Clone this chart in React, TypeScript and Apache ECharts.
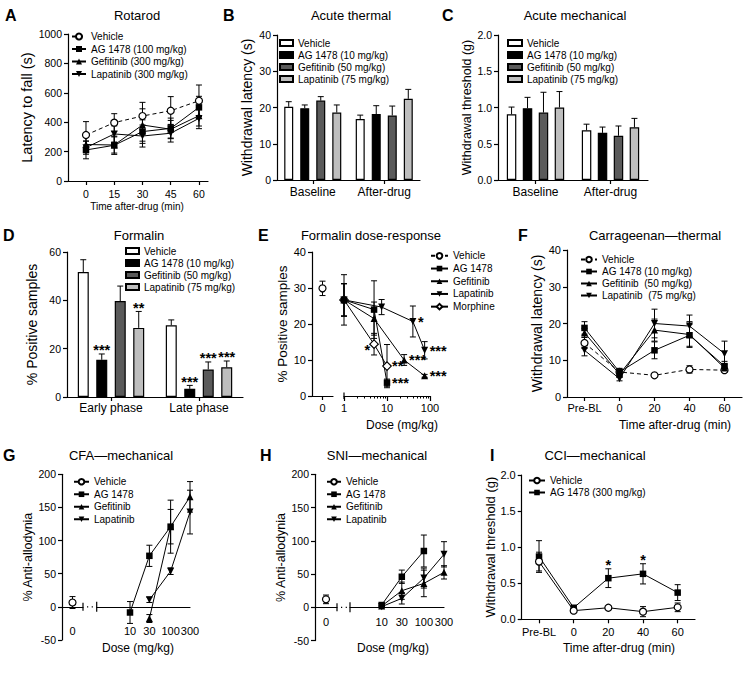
import React, { useEffect, useRef } from 'react';
import * as echarts from 'echarts';

const FONT = '"Liberation Sans", Arial, Helvetica, sans-serif';
const K = '#000000';
const WHITE = '#ffffff';
const DARK = '#5a5a5a';
const LIGHT = '#bebebe';

// ---------------- A: Rotarod ----------------
const aTimes = [0, 15, 30, 45, 60];
const aVehicle = [313, 397, 442, 478, 546];
const aVehicleSem = [91, 61, 93, 96, 107];
const aAG = [211, 243, 336, 358, 501];
const aAGSem = [60, 62, 80, 70, 75];
const aGef = [248, 245, 381, 352, 444];
const aGefSem = [50, 55, 110, 60, 70];
const aLap = [227, 320, 306, 325, 426];
const aLapSem = [45, 55, 75, 60, 70];

// ---------------- B: Acute thermal ----------------
const bCats = ['Baseline', 'After-drug'];
const bVehicle = [20.2, 16.8];
const bVehicleSem = [1.4, 1.1];
const bAG = [19.8, 18.2];
const bAGSem = [0.9, 2.3];
const bGef = [21.9, 17.8];
const bGefSem = [1.1, 2.6];
const bLap = [18.6, 22.4];
const bLapSem = [2.1, 2.6];

// ---------------- C: Acute mechanical ----------------
const cCats = ['Baseline', 'After-drug'];
const cVehicle = [0.906, 0.685];
const cVehicleSem = [0.1, 0.085];
const cAG = [0.99, 0.65];
const cAGSem = [0.15, 0.08];
const cGef = [0.93, 0.61];
const cGefSem = [0.28, 0.135];
const cLap = [1.0, 0.726];
const cLapSem = [0.22, 0.124];

// ---------------- D: Formalin ----------------
const dCats = ['Early phase', 'Late phase'];
const dVehicle = [51.7, 29.7];
const dVehicleSem = [5.1, 2.2];
const dAG = [15.4, 3.4];
const dAGSem = [2.4, 1.4];
const dGef = [39.7, 11.4];
const dGefSem = [6.2, 3.1];
const dLap = [28.6, 12.3];
const dLapSem = [6.8, 2.6];
const dVehicleStars = ['', ''];
const dAGStars = ['***', '***'];
const dGefStars = ['', '***'];
const dLapStars = ['**', '***'];

// ---------------- E: Formalin dose-response ----------------
const eVehicleDose = [0];
const eVehicle = [29.9];
const eVehicleSem = [2.0];
const eAGDose = [1, 5, 10];
const eAG = [26.7, 24.0, 3.7];
const eAGSem = [7.0, 8.0, 1.0];
const eGefDose = [1, 5, 25, 75];
const eGef = [26.7, 21.5, 10.0, 5.6];
const eGefSem = [4.5, 4.6, 1.5, 0.4];
const eLapDose = [1, 7.5, 40, 75];
const eLap = [26.7, 24.7, 20.7, 12.7];
const eLapSem = [4.5, 2.1, 4.3, 2.4];
const eMorDose = [1, 5, 10];
const eMor = [26.7, 14.4, 8.3];
const eMorSem = [4.5, 3.0, 6.0];
const eAGStars = ['', '', '***'];
const eGefStars = ['', '', '***', '***'];
const eLapStars = ['', '', '*', '***'];
const eMorStars = ['', '*', '**'];
const eMorStarSide = ['', 'left', 'right'];
const eDoseTicks = [1, 10, 100];
const eMinorTicks = [2, 3, 4, 5, 6, 7, 8, 9, 20, 30, 40, 50, 60, 70, 80, 90];

// ---------------- F: Carrageenan-thermal ----------------
const fCats = ['Pre-BL', '0', '20', '40', '60'];
const fVehicle = [14.7, 6.8, 5.9, 7.5, 7.3];
const fVehicleSem = [1.5, 0.8, 0.5, 1.0, 0.6];
const fAG = [18.8, 6.8, 12.7, 16.8, 8.4];
const fAGSem = [1.7, 1.0, 2.3, 3.0, 1.3];
const fGef = [17.5, 6.2, 18.2, 17.0, 7.9];
const fGefSem = [1.2, 0.8, 3.0, 3.5, 1.0];
const fLap = [12.7, 5.0, 20.0, 19.3, 11.8];
const fLapSem = [1.5, 0.6, 3.9, 3.0, 3.4];

// ---------------- G: CFA-mechanical ----------------
const gVehicleDose = [0];
const gVehicle = [6.5];
const gVehicleSem = [9];
const gAGDose = [10, 30, 100];
const gAG = [-8.5, 77, 121];
const gAGSem = [16.5, 16, 40];
const gGefDose = [30, 100, 300];
const gGef = [-17.6, 121, 166];
const gGefSem = [6, 26, 23];
const gLapDose = [30, 100, 300];
const gLap = [10.6, 53.8, 143];
const gLapSem = [4, 5, 33];
const ghDoseTicks = [10, 30, 100, 300];

// ---------------- H: SNI-mechanical ----------------
const hVehicleDose = [0];
const hVehicle = [12];
const hVehicleSem = [6.5];
const hAGDose = [10, 30, 100];
const hAG = [3.5, 46, 84.7];
const hAGSem = [2, 10, 24];
const hGefDose = [10, 30, 100, 300];
const hGef = [2, 25, 36, 52.6];
const hGefSem = [1.5, 13, 20, 10];
const hLapDose = [10, 30, 100, 300];
const hLap = [1, 13.5, 44, 79.7];
const hLapSem = [1.5, 8.5, 15, 19];

// ---------------- I: CCI-mechanical ----------------
const iCats = ['Pre-BL', '0', '20', '40', '60'];
const iVehicle = [0.8, 0.12, 0.16, 0.106, 0.166];
const iVehicleSem = [0.13, 0.02, 0.02, 0.07, 0.06];
const iAG = [0.87, 0.16, 0.57, 0.63, 0.37];
const iAGSem = [0.22, 0.03, 0.13, 0.14, 0.11];
const iAGStars = ['', '', '*', '*', ''];

// ---------------- helpers ----------------
const lg = (d: number) => Math.log10(d);
const logFmt = (v: number) => String(Math.round(Math.pow(10, v)));
const plainFmt = (v: number) => String(v);
const pts = (xs: number[], ys: number[]) => xs.map((x, i) => [x, ys[i]]);
const tri = (xs: number[], ys: number[], es: number[]) => xs.map((x, i) => [x, ys[i], es[i]]);
const idx = (n: number) => Array.from({ length: n }, (_, i) => i);

const LS = { color: K, width: 1.2 };
const STAR_FS = 14.5;

const MK: any = {
  vehicle: { symbol: 'circle', size: 7, open: true },
  ag: { symbol: 'rect', size: 6.5 },
  gef: { symbol: 'triangle', size: 7 },
  lap: { symbol: 'triangle', size: 7, rotate: 180 },
  mor: { symbol: 'diamond', size: 8.5, open: true },
};

function T(text: string, x: number, y: number, fontSize: number, extra: any = {}) {
  return {
    type: 'text', x, y, silent: true,
    style: { text, fontSize, fontFamily: FONT, fill: K, align: 'center', verticalAlign: 'middle', ...extra },
  };
}
const letter = (l: string, x: number, y: number) => T(l, x, y, 16, { fontWeight: 'bold', align: 'left' });

function yAx(gi: number, min: number, max: number, interval: number, name: string, nameGap: number, nameSize: number, labelSize: number, fmt: any = plainFmt, show = true) {
  return {
    type: 'value', gridIndex: gi, min, max, interval, show, position: 'left',
    name, nameLocation: 'middle', nameGap,
    nameTextStyle: { fontSize: nameSize, fontFamily: FONT, color: K },
    axisLine: { show: true, onZero: false, lineStyle: LS },
    axisTick: { show: true, length: 4, lineStyle: LS },
    axisLabel: { show: true, fontSize: labelSize, fontFamily: FONT, color: K, margin: 6, formatter: fmt },
    splitLine: { show: false },
  };
}
const yHidden = (gi: number, min: number, max: number) => ({
  type: 'value', gridIndex: gi, min, max, show: false, axisLine: { onZero: false }, splitLine: { show: false },
});

function xCat(gi: number, data: string[], fs: number, margin: number) {
  return {
    type: 'category', gridIndex: gi, data, boundaryGap: true,
    axisLine: { show: true, lineStyle: LS },
    axisTick: { show: true, alignWithLabel: true, length: 4, lineStyle: LS },
    axisLabel: { show: true, interval: 0, fontSize: fs, fontFamily: FONT, color: K, margin },
    splitLine: { show: false },
  };
}

function xVal(gi: number, min: number, max: number, ticks: number[], fs: number, margin: number, fmt: any = plainFmt, tickLen = 4, showTicks = true) {
  return {
    type: 'value', gridIndex: gi, min, max, position: 'bottom',
    axisLine: { show: true, onZero: true, lineStyle: LS },
    axisTick: { show: showTicks, length: tickLen, customValues: ticks, lineStyle: LS },
    axisLabel: { show: true, customValues: ticks, fontSize: fs, fontFamily: FONT, color: K, margin, formatter: fmt },
    splitLine: { show: false },
  };
}

function xMinor(gi: number, min: number, max: number, ticks: number[]) {
  return {
    type: 'value', gridIndex: gi, min, max, position: 'bottom', offset: 0,
    axisLine: { show: false, onZero: true },
    axisTick: { show: true, length: 2.5, customValues: ticks, lineStyle: { color: K, width: 1 } },
    axisLabel: { show: false },
    splitLine: { show: false },
  };
}

function legend(names: string[], left: number, top: number, itemWidth: number, itemHeight: number, rowH: number, icon?: string) {
  return {
    show: true, orient: 'vertical', left, top, itemWidth, itemHeight, itemGap: 0, padding: 0,
    icon, data: names, selectedMode: false,
    textStyle: { fontSize: 10, fontFamily: FONT, color: K, lineHeight: rowH },
  };
}

function line(name: string, data: any[], mk: any, xi: number, yi: number, dashed = false) {
  return {
    type: 'line', name, data, xAxisIndex: xi, yAxisIndex: yi,
    symbol: mk.symbol, symbolSize: mk.size, symbolRotate: mk.rotate || 0,
    showAllSymbol: true, silent: true, z: 4,
    lineStyle: { color: K, width: 1, type: dashed ? [4, 3] : 'solid' },
    itemStyle: { color: mk.open ? WHITE : K, borderColor: K, borderWidth: mk.open ? 1.2 : 0 },
    emphasis: { disabled: true },
  };
}

function errBars(xi: number, yi: number, data: number[][], both = true, offset = 0, cap = 3) {
  return {
    type: 'custom', xAxisIndex: xi, yAxisIndex: yi, data, silent: true, z: 3,
    encode: { x: 0, y: 1 },
    renderItem: (params: any, api: any) => {
      const x = api.value(0);
      const y = api.value(1);
      const e = api.value(2);
      const t = api.coord([x, y + e]);
      const b = api.coord([x, both ? y - e : y]);
      const cx = t[0] + offset;
      const st = { stroke: K, lineWidth: 1 };
      const ch: any[] = [
        { type: 'line', shape: { x1: cx, y1: t[1], x2: cx, y2: b[1] }, style: st },
        { type: 'line', shape: { x1: cx - cap, y1: t[1], x2: cx + cap, y2: t[1] }, style: st },
      ];
      if (both) ch.push({ type: 'line', shape: { x1: cx - cap, y1: b[1], x2: cx + cap, y2: b[1] }, style: st });
      return { type: 'group', children: ch };
    },
  };
}

// star labels: items {x, y, text, dx, dy, align}
function stars(xi: number, yi: number, items: any[]) {
  return {
    type: 'custom', xAxisIndex: xi, yAxisIndex: yi, silent: true, z: 5,
    data: items.map((s) => [s.x, s.y]),
    encode: { x: 0, y: 1 },
    renderItem: (params: any, api: any) => {
      const s = items[params.dataIndex];
      const c = api.coord([api.value(0), api.value(1)]);
      return {
        type: 'text', x: c[0] + s.dx, y: c[1] + s.dy,
        style: { text: s.text, fontSize: STAR_FS, fontWeight: 'bold', fontFamily: FONT, fill: K, align: s.align, verticalAlign: 'middle' },
      };
    },
  };
}

// bar-chart stars above error bars
function barStars(gi: number, vals: number[], sems: number[], txt: string[], offset: number) {
  const items: any[] = [];
  txt.forEach((t, i) => {
    if (t) items.push({ x: i, y: vals[i] + sems[i], text: t, dx: offset, dy: -3.6, align: 'center' });
  });
  return stars(gi, gi, items);
}

// point stars beside a point (log x)
function sideStars(xi: number, yi: number, doses: number[], vals: number[], txt: string[], side?: string[]) {
  const items: any[] = [];
  txt.forEach((t, i) => {
    if (!t) return;
    const left = side && side[i] === 'left';
    items.push({ x: lg(doses[i]), y: vals[i], text: t, dx: left ? -4 : 5, dy: left ? 6.3 : 0.3, align: left ? 'right' : 'left' });
  });
  return stars(xi, yi, items);
}

function barSet(gi: number, names: string[], vals: number[][], sems: number[][], colors: string[], bw: number, gapFrac: number) {
  const step = bw * (1 + gapFrac);
  const out: any[] = [];
  names.forEach((n, k) => {
    out.push({
      type: 'bar', name: n, data: vals[k], xAxisIndex: gi, yAxisIndex: gi,
      barWidth: bw, barGap: `${gapFrac * 100}%`, silent: true, z: 2,
      itemStyle: { color: colors[k], borderColor: K, borderWidth: 1.2 },
      emphasis: { disabled: true },
    });
    out.push(errBars(gi, gi, tri(idx(vals[k].length), vals[k], sems[k]), false, (k - 1.5) * step, 3));
  });
  return out;
}

const gridDef = (left: number, top: number, width: number, height: number) => ({ left, top, width, height, containLabel: false, outerBoundsMode: 'none' });
const BAR_COLORS = [WHITE, K, DARK, LIGHT];

// ---------------- panel options ----------------
function buildOptions() {
  const opts: any[] = [];

  // A
  opts.push({
    animation: false,
    grid: [gridDef(68, 34, 140, 147)],
    xAxis: [xVal(0, -9.56, 64.8, aTimes, 10.5, 7.5)],
    yAxis: [yAx(0, 0, 1000, 200, 'Latency to fall (s)', 32.75, 14.5, 10.5)],
    legend: legend(['Vehicle', 'AG 1478 (100 mg/kg)', 'Gefitinib (300 mg/kg)', 'Lapatinib (300 mg/kg)'], 71, 30.25, 14, 7.5, 12.5),
    series: [
      errBars(0, 0, tri(aTimes, aVehicle, aVehicleSem)),
      errBars(0, 0, tri(aTimes, aAG, aAGSem)),
      errBars(0, 0, tri(aTimes, aGef, aGefSem)),
      errBars(0, 0, tri(aTimes, aLap, aLapSem)),
      line('Vehicle', pts(aTimes, aVehicle), MK.vehicle, 0, 0, true),
      line('AG 1478 (100 mg/kg)', pts(aTimes, aAG), MK.ag, 0, 0),
      line('Gefitinib (300 mg/kg)', pts(aTimes, aGef), MK.gef, 0, 0),
      line('Lapatinib (300 mg/kg)', pts(aTimes, aLap), MK.lap, 0, 0),
    ],
    graphic: [letter('A', 5, 15), T('Rotarod', 137, 15, 13), T('Time after-drug (min)', 137, 206, 10)],
  });

  const barNames10 = ['Vehicle', 'AG 1478 (10 mg/kg)', 'Gefitinib (50 mg/kg)', 'Lapatinib (75 mg/kg)'];

  // B
  opts.push({
    animation: false,
    grid: [gridDef(277, 35, 143, 145)],
    xAxis: [xCat(0, bCats, 12, 6)],
    yAxis: [yAx(0, 0, 40, 10, 'Withdrawal latency (s)', 23, 14, 10.5)],
    legend: legend(barNames10, 279, 37, 13, 6, 12, 'rect'),
    series: barSet(0, barNames10, [bVehicle, bAG, bGef, bLap], [bVehicleSem, bAGSem, bGefSem, bLapSem], BAR_COLORS, 9, 0.78),
    graphic: [letter('B', 223, 15), T('Acute thermal', 351, 15, 13)],
  });

  // C
  opts.push({
    animation: false,
    grid: [gridDef(498, 35, 150, 145)],
    xAxis: [xCat(0, cCats, 12, 6)],
    yAxis: [yAx(0, 0, 2, 0.5, 'Withdrawal threshold (g)', 21.75, 12.5, 10.5, (v: number) => v.toFixed(1))],
    legend: legend(barNames10, 507, 37, 14, 6, 12, 'rect'),
    series: barSet(0, barNames10, [cVehicle, cAG, cGef, cLap], [cVehicleSem, cAGSem, cGefSem, cLapSem], BAR_COLORS, 9.5, 0.68),
    graphic: [letter('C', 442, 15), T('Acute mechanical', 575, 15, 13)],
  });

  // D
  const dStep = 11 * 1.68;
  opts.push({
    animation: false,
    grid: [gridDef(67, 252, 176, 145)],
    xAxis: [xCat(0, dCats, 12, 5)],
    yAxis: [yAx(0, 0, 60, 20, '% Positive samples', 28, 14, 10.5)],
    legend: legend(barNames10, 125, 245, 13, 6, 12, 'rect'),
    series: [
      ...barSet(0, barNames10, [dVehicle, dAG, dGef, dLap], [dVehicleSem, dAGSem, dGefSem, dLapSem], BAR_COLORS, 11, 0.68),
      barStars(0, dVehicle, dVehicleSem, dVehicleStars, -1.5 * dStep),
      barStars(0, dAG, dAGSem, dAGStars, -0.5 * dStep),
      barStars(0, dGef, dGefSem, dGefStars, 0.5 * dStep),
      barStars(0, dLap, dLapSem, dLapStars, 1.5 * dStep),
    ],
    graphic: [letter('D', 3, 235), T('Formalin', 139, 235, 13)],
  });

  // E
  opts.push({
    animation: false,
    grid: [gridDef(312, 252, 21, 144), gridDef(344, 252, 86, 144)],
    xAxis: [
      xVal(0, -1, 1, [0], 11, 6),
      xVal(1, 0, 2, eDoseTicks.map(lg), 11, 6, logFmt, 5),
      xMinor(1, 0, 2, eMinorTicks.map(lg)),
    ],
    yAxis: [yAx(0, 0, 40, 10, '% Positive samples', 22.25, 13.5, 11), yHidden(1, 0, 40)],
    legend: legend(['Vehicle', 'AG 1478', 'Gefitinib', 'Lapatinib', 'Morphine'], 430, 249.5, 17, 7, 12.7),
    series: [
      errBars(0, 0, tri(eVehicleDose, eVehicle, eVehicleSem)),
      errBars(1, 1, tri(eAGDose.map(lg), eAG, eAGSem)),
      errBars(1, 1, tri(eGefDose.map(lg), eGef, eGefSem)),
      errBars(1, 1, tri(eLapDose.map(lg), eLap, eLapSem)),
      errBars(1, 1, tri(eMorDose.map(lg), eMor, eMorSem)),
      line('Vehicle', pts(eVehicleDose, eVehicle), MK.vehicle, 0, 0, true),
      line('Morphine', pts(eMorDose.map(lg), eMor), MK.mor, 1, 1),
      line('Lapatinib', pts(eLapDose.map(lg), eLap), MK.lap, 1, 1),
      line('Gefitinib', pts(eGefDose.map(lg), eGef), MK.gef, 1, 1),
      line('AG 1478', pts(eAGDose.map(lg), eAG), MK.ag, 1, 1),
      sideStars(1, 1, eAGDose, eAG, eAGStars),
      sideStars(1, 1, eGefDose, eGef, eGefStars),
      sideStars(1, 1, eLapDose, eLap, eLapStars),
      sideStars(1, 1, eMorDose, eMor, eMorStars, eMorStarSide),
    ],
    graphic: [
      letter('E', 258, 235), T('Formalin dose-response', 371, 235, 13), T('Dose (mg/kg)', 402, 425, 12),
      { type: 'line', silent: true, shape: { x1: 344, y1: 392.5, x2: 344, y2: 399 }, style: { stroke: K, lineWidth: 1.2 } },
    ],
  });

  // F
  opts.push({
    animation: false,
    grid: [gridDef(567, 250, 175, 147)],
    xAxis: [xCat(0, fCats, 11, 5.5)],
    yAxis: [yAx(0, 0, 40, 10, 'Withdrawal latency (s)', 23, 14, 11)],
    legend: legend(['Vehicle', 'AG 1478 (10 mg/kg)', 'Gefitinib  (50 mg/kg)', 'Lapatinib  (75 mg/kg)'], 580, 253.5, 16, 7, 12),
    series: [
      errBars(0, 0, tri(idx(5), fVehicle, fVehicleSem)),
      errBars(0, 0, tri(idx(5), fAG, fAGSem)),
      errBars(0, 0, tri(idx(5), fGef, fGefSem)),
      errBars(0, 0, tri(idx(5), fLap, fLapSem)),
      line('Vehicle', fVehicle, MK.vehicle, 0, 0, true),
      line('AG 1478 (10 mg/kg)', fAG, MK.ag, 0, 0),
      line('Gefitinib  (50 mg/kg)', fGef, MK.gef, 0, 0),
      line('Lapatinib  (75 mg/kg)', fLap, MK.lap, 0, 0),
    ],
    graphic: [letter('F', 518, 235), T('Carrageenan\u2014thermal', 655, 235, 13), T('Time after-drug (min)', 675, 425, 12)],
  });

  // break marks helper
  const brk = (x1: number, x2: number, y: number) => [
    { type: 'line', silent: true, shape: { x1, y1: y - 4, x2: x1, y2: y + 4 }, style: { stroke: K, lineWidth: 1.2 } },
    { type: 'line', silent: true, shape: { x1: x1 + 4, y1: y, x2: x2 - 3, y2: y }, style: { stroke: K, lineWidth: 1.2, lineDash: [1.2, 3.5] } },
    { type: 'line', silent: true, shape: { x1: x2, y1: y - 5, x2: x2, y2: y + 5 }, style: { stroke: K, lineWidth: 1.2 } },
  ];
  const gZeroY = 474.3 + (200 / 250) * 165.7;
  const hZeroY = 474.3 + (200 / 250) * 166.3;

  // G  (labels sit below the zero line; margin measured from the grid bottom)
  opts.push({
    animation: false,
    grid: [gridDef(62, 474.3, 21, 165.7), gridDef(96.7, 474.3, 93.3, 165.7)],
    xAxis: [
      xVal(0, -1, 1, [0], 11, -14.5, plainFmt, 3, false),
      xVal(1, 0.18, lg(300), ghDoseTicks.map(lg), 11, -14.5, logFmt, 3, false),
    ],
    yAxis: [yAx(0, -50, 200, 50, '% Anti-allodynia', 23.75, 12.5, 10.5), yHidden(1, -50, 200)],
    legend: legend(['Vehicle', 'AG 1478', 'Gefitinib', 'Lapatinib'], 73, 475.5, 15, 7, 12.5),
    series: [
      errBars(0, 0, tri(gVehicleDose, gVehicle, gVehicleSem)),
      errBars(1, 1, tri(gAGDose.map(lg), gAG, gAGSem)),
      errBars(1, 1, tri(gGefDose.map(lg), gGef, gGefSem)),
      errBars(1, 1, tri(gLapDose.map(lg), gLap, gLapSem)),
      line('Vehicle', pts(gVehicleDose, gVehicle), MK.vehicle, 0, 0),
      line('Lapatinib', pts(gLapDose.map(lg), gLap), MK.lap, 1, 1),
      line('Gefitinib', pts(gGefDose.map(lg), gGef), MK.gef, 1, 1),
      line('AG 1478', pts(gAGDose.map(lg), gAG), MK.ag, 1, 1),
    ],
    graphic: [letter('G', 3, 455), T('CFA\u2014mechanical', 121, 455, 13), T('Dose (mg/kg)', 138, 648, 12), ...brk(83, 96.7, gZeroY)],
  });

  // H
  opts.push({
    animation: false,
    grid: [gridDef(315, 474.3, 22, 166.3), gridDef(350, 474.3, 94, 166.3)],
    xAxis: [
      xVal(0, -1, 1, [0], 11, -24.5, plainFmt, 3, false),
      xVal(1, 0.249, lg(300), ghDoseTicks.map(lg), 11, -24.5, logFmt, 3, false),
    ],
    yAxis: [yAx(0, -50, 200, 50, '% Anti-allodynia', 23.75, 12.5, 10.5), yHidden(1, -50, 200)],
    legend: legend(['Vehicle', 'AG 1478', 'Gefitinib', 'Lapatinib'], 326, 475.5, 14, 7, 12.5),
    series: [
      errBars(0, 0, tri(hVehicleDose, hVehicle, hVehicleSem)),
      errBars(1, 1, tri(hAGDose.map(lg), hAG, hAGSem)),
      errBars(1, 1, tri(hGefDose.map(lg), hGef, hGefSem)),
      errBars(1, 1, tri(hLapDose.map(lg), hLap, hLapSem)),
      line('Vehicle', pts(hVehicleDose, hVehicle), MK.vehicle, 0, 0),
      line('Lapatinib', pts(hLapDose.map(lg), hLap), MK.lap, 1, 1),
      line('Gefitinib', pts(hGefDose.map(lg), hGef), MK.gef, 1, 1),
      line('AG 1478', pts(hAGDose.map(lg), hAG), MK.ag, 1, 1),
    ],
    graphic: [letter('H', 260, 455), T('SNI\u2014mechanical', 377, 455, 13), T('Dose (mg/kg)', 393, 648, 12), ...brk(337, 350, hZeroY)],
  });

  // I
  const iStarItems: any[] = [];
  iAGStars.forEach((t, i) => { if (t) iStarItems.push({ x: i, y: iAG[i] + iAGSem[i], text: t, dx: 0, dy: -3.6, align: 'center' }); });
  opts.push({
    animation: false,
    grid: [gridDef(521.7, 475, 173.3, 144.3)],
    xAxis: [xCat(0, iCats, 11, 7)],
    yAxis: [yAx(0, 0, 2, 0.5, 'Withdrawal threshold (g)', 25.2, 13, 11, (v: number) => v.toFixed(1))],
    legend: legend(['Vehicle', 'AG 1478 (300 mg/kg)'], 528, 474.5, 16, 7, 12),
    series: [
      errBars(0, 0, tri(idx(5), iVehicle, iVehicleSem)),
      errBars(0, 0, tri(idx(5), iAG, iAGSem)),
      line('AG 1478 (300 mg/kg)', iAG, MK.ag, 0, 0),
      line('Vehicle', iVehicle, MK.vehicle, 0, 0),
      stars(0, 0, iStarItems),
    ],
    graphic: [letter('I', 490, 455), T('CCI\u2014mechanical', 595, 455, 13), T('Time after-drug (min)', 619, 648, 12)],
  });

  return opts;
}

const W = 752;
const H = 698;

export default function App() {
  const refs = useRef<(HTMLDivElement | null)[]>([]);
  const options = buildOptions();

  useEffect(() => {
    const charts = buildOptions().map((opt, i) => {
      const el = refs.current[i] as HTMLDivElement;
      const c = echarts.init(el, undefined, { renderer: 'svg', width: W, height: H });
      c.setOption(opt);
      return c;
    });
    return () => charts.forEach((c) => c.dispose());
  }, []);

  return (
    <div style={{ position: 'absolute', left: 0, top: 0, width: W, height: H, background: '#fff', overflow: 'hidden' }}>
      {options.map((_, i) => (
        <div
          key={i}
          ref={(el) => { refs.current[i] = el; }}
          style={{ position: 'absolute', left: 0, top: 0, width: W, height: H }}
        />
      ))}
    </div>
  );
}
